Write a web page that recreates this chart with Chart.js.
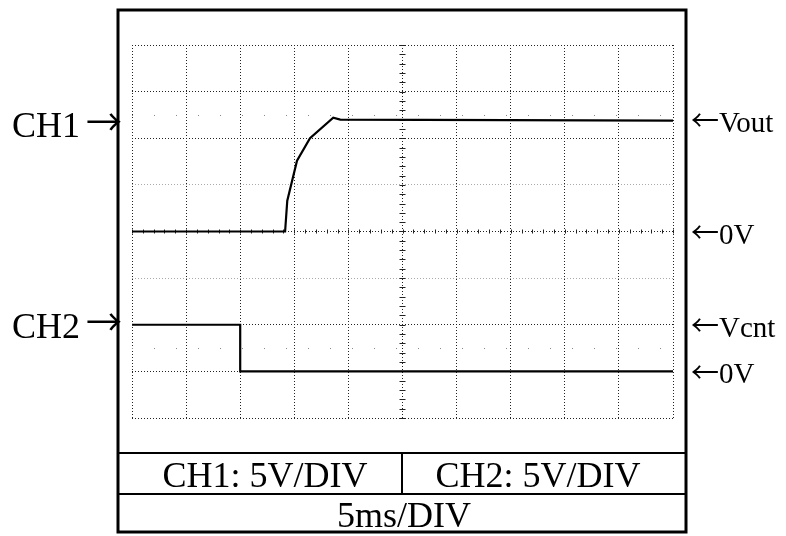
<!DOCTYPE html>
<html>
<head>
<meta charset="utf-8">
<script src="https://cdn.jsdelivr.net/npm/chart.js@4.4.0/dist/chart.umd.min.js"></script>
<style>
  html, body { margin: 0; padding: 0; background: #fff; }
</style>
</head>
<body>
<canvas id="scope" width="786" height="536"></canvas>
<script>
// horizontal: time in ms, 5 ms per division, 10 divisions
const timeMin = 0;
const timeMax = 50;
const timePerDiv = 5;

// vertical: screen divisions, 8 in total
const divMin = -4;
const divMax = 4;

// channel setup
const channelNames = ["CH1", "CH2"];
const voltsPerDiv = [5, 5];
const channelOffset = [0, -3]; // position of each channel's 0 V, in divisions

// CH1: output voltage (ms, V)
const ch1Time = [0, 14.15, 14.35, 15.25, 16.45, 18.6, 19.25, 50];
const ch1Volts = [0, 0, 3.3, 7.6, 10.0, 12.2, 12.0, 11.9];

// CH2: control voltage (ms, V)
const ch2Time = [0, 10, 10, 50];
const ch2Volts = [5, 5, 0, 0];

// level markers on the right edge: [channel, volts, text]
const levelMarks = [
  [0, 12, "Vout"],
  [0, 0, "0V"],
  [1, 5, "Vcnt"],
  [1, 0, "0V"]
];
// channel markers on the left edge: [channel, volts]
const channelMarks = [
  [0, 11.4],
  [1, 4.9]
];

const SERIF = '"Liberation Serif", "DejaVu Serif", serif';
const ARROWS = '"Noto Sans CJK JP", "DejaVu Sans", sans-serif';

function toDiv(ch, v) {
  return v / voltsPerDiv[ch] + channelOffset[ch];
}

function trace(ch, times, volts) {
  return times.map((t, i) => ({ x: t, y: toDiv(ch, volts[i]) }));
}

// graticule extras, frame, labels and the settings panel
const scopeDecor = {
  id: "scopeDecor",
  beforeDatasetsDraw(chart) {
    const { ctx, scales: { x, y } } = chart;
    ctx.save();
    ctx.strokeStyle = "#222";
    ctx.lineWidth = 1;
    // minor ticks on the centre cross
    const cx = x.getPixelForValue((timeMin + timeMax) / 2);
    const cy = y.getPixelForValue(0);
    ctx.beginPath();
    for (let d = divMin; d <= divMax + 1e-6; d += 0.2) {
      const py = Math.round(y.getPixelForValue(d)) + 0.5;
      ctx.moveTo(cx - 3, py);
      ctx.lineTo(cx + 3, py);
    }
    for (let t = timeMin; t <= timeMax + 1e-6; t += timePerDiv / 5) {
      const px = Math.round(x.getPixelForValue(t)) + 0.5;
      ctx.moveTo(px, cy - 2);
      ctx.lineTo(px, cy + 2);
    }
    ctx.stroke();
    // sparse dots half way in the outer rows
    ctx.strokeStyle = "#888";
    ctx.setLineDash([1, 21]);
    ctx.beginPath();
    [2.5, -2.5].forEach(d => {
      const py = Math.round(y.getPixelForValue(d)) + 0.5;
      ctx.moveTo(x.left, py);
      ctx.lineTo(x.right, py);
    });
    ctx.stroke();
    ctx.restore();
  },
  afterDraw(chart) {
    const { ctx, scales: { y } } = chart;
    ctx.save();
    ctx.strokeStyle = "#000";
    ctx.fillStyle = "#000";

    // outer frame
    const L = 118, R = 686, T = 10, B = 532;
    ctx.lineWidth = 3;
    ctx.strokeRect(L, T, R - L, B - T);

    // settings panel
    const row1 = 453, row2 = 494, split = 402;
    ctx.lineWidth = 2;
    ctx.beginPath();
    ctx.moveTo(L, row1); ctx.lineTo(R, row1);
    ctx.moveTo(L, row2); ctx.lineTo(R, row2);
    ctx.moveTo(split, row1); ctx.lineTo(split, row2);
    ctx.stroke();

    ctx.font = "36px " + SERIF;
    ctx.textAlign = "center";
    ctx.textBaseline = "alphabetic";
    ctx.fillText(`${channelNames[0]}: ${voltsPerDiv[0]}V/DIV`, 265, 487);
    ctx.fillText(`${channelNames[1]}: ${voltsPerDiv[1]}V/DIV`, 538, 487);
    ctx.fillText(`${timePerDiv}ms/DIV`, 404, 527);

    // channel markers: name followed by a long arrow pointing at the screen
    channelMarks.forEach(([ch, v]) => {
      const py = y.getPixelForValue(toDiv(ch, v));
      ctx.font = "36px " + ARROWS;
      ctx.textAlign = "right";
      ctx.textBaseline = "middle";
      const arrowW = ctx.measureText("→").width;
      ctx.fillText("→", 122, py - 3);
      ctx.font = "36px " + SERIF;
      ctx.textBaseline = "alphabetic";
      ctx.fillText(channelNames[ch], 122 - arrowW - 6, py + 12);
    });

    // level markers: arrow pointing back at the trace, then the name
    levelMarks.forEach(([ch, v, text]) => {
      const py = y.getPixelForValue(toDiv(ch, v));
      ctx.font = "28px " + ARROWS;
      ctx.textAlign = "left";
      ctx.textBaseline = "middle";
      const arrowW = ctx.measureText("←").width;
      ctx.fillText("←", 691, py + 1);
      ctx.font = "29px " + SERIF;
      ctx.textBaseline = "alphabetic";
      ctx.fillText(text, 691 + arrowW, py + 12);
    });
    ctx.restore();
  }
};

const gridColor = ctx => (Math.abs(ctx.tick.value) === 1 ? "#aaa" : "#222");

new Chart(document.getElementById("scope"), {
  type: "line",
  data: {
    datasets: [
      {
        label: channelNames[0],
        data: trace(0, ch1Time, ch1Volts),
        borderColor: "#000",
        borderWidth: 2.2,
        pointRadius: 0,
        tension: 0,
        fill: false
      },
      {
        label: channelNames[1],
        data: trace(1, ch2Time, ch2Volts),
        borderColor: "#000",
        borderWidth: 2.2,
        pointRadius: 0,
        tension: 0,
        fill: false
      }
    ]
  },
  options: {
    responsive: false,
    animation: false,
    devicePixelRatio: 1,
    layout: { padding: { left: 132, top: 45, right: 113, bottom: 118 } },
    plugins: { legend: { display: false }, tooltip: { enabled: false } },
    scales: {
      x: {
        type: "linear",
        min: timeMin,
        max: timeMax,
        ticks: { stepSize: timePerDiv, display: false },
        grid: { color: "#222", lineWidth: 1, drawTicks: false },
        border: { display: false, dash: [1, 2] },
        afterFit: s => { s.height = 0; }
      },
      y: {
        type: "linear",
        min: divMin,
        max: divMax,
        ticks: { stepSize: 1, display: false },
        grid: { color: gridColor, lineWidth: 1, drawTicks: false },
        border: { display: false, dash: [1, 2] },
        afterFit: s => { s.height = 0; s.width = 0; }
      }
    }
  },
  plugins: [scopeDecor]
});
</script>
</body>
</html>
